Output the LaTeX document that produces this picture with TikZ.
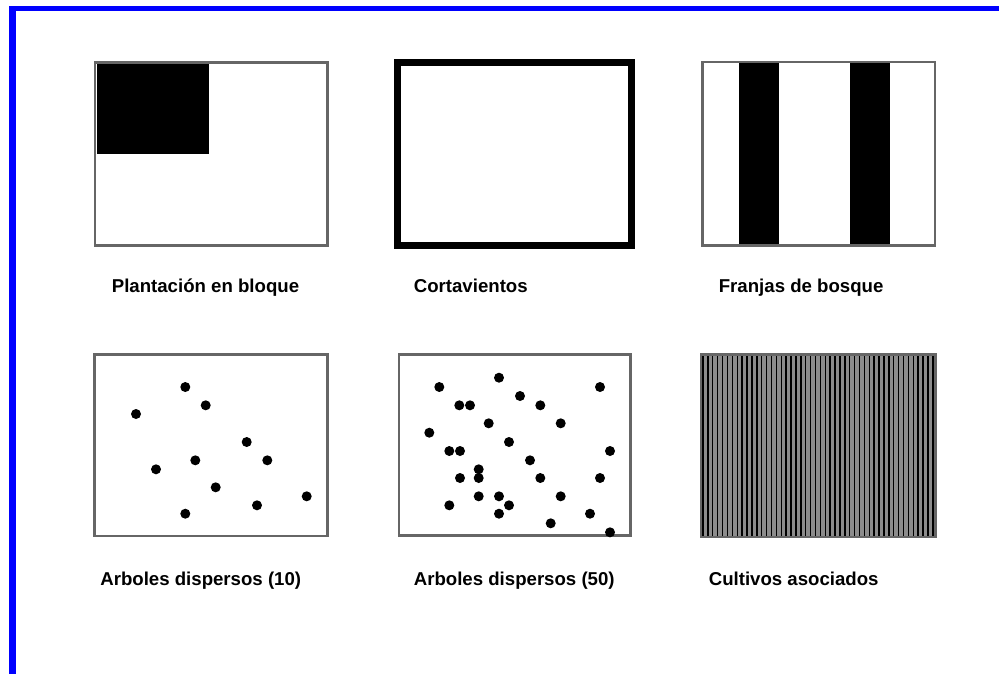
\documentclass[tikz,border=0pt]{standalone}
\usepackage{fontspec}
\setmainfont{Liberation Sans}
\usepackage{tikz}
\usetikzlibrary{positioning,calc}

\begin{document}
\begin{tikzpicture}[
    x=0.02cm, y=-0.02cm,
    frame/.style={draw=black!60, line width=1.4pt},
    thickframe/.style={draw=black, line width=4pt},
    tree/.style={fill=black},
    lbl/.style={anchor=base west, inner sep=0pt, font=\bfseries\fontsize{10.6}{12}\selectfont},
  ]
  \useasboundingbox (0,0) rectangle (999,674);
  % blue page edge
  \fill[blue] (9,6) rectangle (999,11);
  \fill[blue] (9,6) rectangle (16,674);

  % top row
  \fill[tree] (96.5,62.5) rectangle (209,154);
  \draw[frame] (95,62.5) rectangle (327.5,245.5);
  \draw[thickframe] (397.5,62.5) rectangle (631.5,245.5);
  \fill[tree] (738.5,62) rectangle (778.5,245.5);
  \fill[tree] (850,62) rectangle (889.5,245.5);
  \draw[frame] (702.5,62) rectangle (935,245.5);

  \node[lbl] (bloque) at (111.5,292) {Plantación en bloque};
  \node[lbl] (corta)  at (413.5,292) {Cortavientos};
  \node[lbl] (franja) at (718.5,292) {Franjas de bosque};

  % bottom row
  \draw[frame] (94.5,354.5) rectangle (327.5,536);
  \foreach \px/\py in {185.3/387, 205.7/405.3, 136/414, 246.7/442, 195.3/460.3,
      267.3/460.3, 156/469.3, 215.7/487.3, 306.7/496.3, 257/505.3, 185.3/513.7}
    \fill[tree] (\px,\py) circle (5);

  \draw[frame] (399,354.5) rectangle (630.5,535.5);
  \foreach \px/\py in {499/377.7, 439.3/387, 600/387, 520/396, 459.3/405.3, 470/405.3,
      540.3/405.3, 488.7/423.3, 560.7/423.3, 429.3/432.7, 509/442, 449.3/451, 460/451,
      610/451, 530/460.3, 478.7/469.3, 460/478, 478.7/478, 540.3/478, 600/478,
      478.7/496.3, 499/496.3, 560.7/496.3, 449.3/505.3, 509/505.3, 499/513.7,
      590/513.7, 550.7/523.3, 610/532.3}
    \fill[tree] (\px,\py) circle (5);

  \fill[black!45] (701,354.5) rectangle (935.5,537);
  \foreach \i in {0,...,47}
    \draw[black, line width=0.8pt] ({703+\i*4.89},354.5) -- ({703+\i*4.89},537);
  \draw[frame] (701,354.5) rectangle (935.5,537);

  \node[lbl] (disp10) at (100,585) {Arboles dispersos (10)};
  \node[lbl] (disp50) at (413.5,585) {Arboles dispersos (50)};
  \node[lbl] (cultiv) at (708.5,585) {Cultivos asociados};
\end{tikzpicture}
\end{document}
